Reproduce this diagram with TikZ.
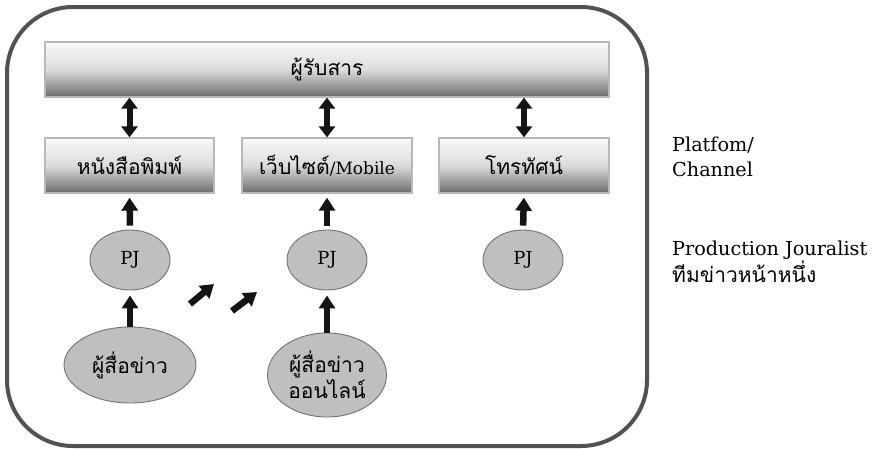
\documentclass[tikz,border=0pt]{standalone}
\usepackage{fontspec}
\setmainfont{DejaVu Serif}
\newfontfamily\thai[Script=Thai]{Loma}
\usetikzlibrary{arrows.meta,shapes.geometric}
\tikzset{
  frame/.style={draw=black!68, line width=4pt, rounded corners=66pt, inner sep=0pt},
  chan/.style={rectangle, draw=black!28, line width=1.3pt, inner sep=0pt,
    shading=axis, top color=black!2, bottom color=black!58, middle color=black!14,
    font=\fontsize{17}{20}\selectfont},
  thaibox/.style={font=\fontsize{21}{24}\selectfont\thai},
  pjnode/.style={ellipse, draw=black!55, line width=0.9pt, fill=black!25, inner sep=0pt,
    font=\fontsize{18}{21}\selectfont},
  repnode/.style={ellipse, draw=black!55, line width=0.9pt, fill=black!25, inner sep=0pt,
    align=center, font=\fontsize{21}{26}\selectfont\thai},
  uparr/.style={draw=black!92, line width=6.5pt, -{Triangle[length=13pt,width=16pt]}},
  dblarr/.style={draw=black!92, line width=6pt, {Triangle[length=11pt,width=16pt]}-{Triangle[length=11pt,width=16pt]}},
  side/.style={anchor=base west, inner sep=0pt, font=\fontsize{19.2}{22}\selectfont}
}
\begin{document}
\begin{tikzpicture}[x=1pt,y=-1pt]
\useasboundingbox (0,0) rectangle (883,448);
\node[frame, minimum width=640pt, minimum height=439pt] (frame) at (327,226.5) {};

\node[chan, thaibox, minimum width=564pt, minimum height=55pt] (aud) at (327,69.5) {ผู้รับสาร};
\node[chan, thaibox, minimum width=169pt, minimum height=55pt] (news) at (129.5,165.5) {หนังสือพิมพ์};
\node[chan, minimum width=170pt, minimum height=55pt] (web) at (327,165.5) {{\fontsize{21}{24}\selectfont\thai เว็บไซต์}/Mobile};
\node[chan, thaibox, minimum width=170pt, minimum height=55pt] (tv) at (524,165.5) {โทรทัศน์};

\node[pjnode, minimum width=80pt, minimum height=60pt] (pj1) at (130,260) {PJ};
\node[pjnode, minimum width=80pt, minimum height=60pt] (pj2) at (327,260) {PJ};
\node[pjnode, minimum width=80pt, minimum height=60pt] (pj3) at (523,260) {PJ};

\node[repnode, minimum width=132pt, minimum height=76pt] (rep1) at (130,365) {ผู้สื่อข่าว};
\node[repnode, minimum width=119pt, minimum height=84pt] (rep2) at (327,375) {ผู้สื่อข่าว\\ออนไลน์};

% double arrows between audience and channels
\draw[dblarr] (news.north |- aud.south) -- (news.north);
\draw[dblarr] (web.north |- aud.south) -- (web.north);
\draw[dblarr] (tv.north |- aud.south) -- (tv.north);

% PJ to channels
\draw[uparr, shorten <=4pt, shorten >=4pt] (pj1.north) -- (news.south);
\draw[uparr, shorten <=4pt, shorten >=4pt] (pj2.north) -- (web.south);
\draw[uparr, shorten <=4pt, shorten >=4pt] (pj3.north) -- (tv.south);

% reporters to PJ
\draw[uparr, shorten >=5pt] (rep1.north) -- (pj1.south);
\draw[uparr, shorten >=5pt] (rep2.north) -- (pj2.south);

% diagonal arrows
\coordinate (d1a) at (190,304);
\coordinate (d1b) at (214,284);
\coordinate (d2a) at (232,311);
\coordinate (d2b) at (257,292);
\draw[uparr] (d1a) -- (d1b);
\draw[uparr] (d2a) -- (d2b);

% side labels
\node[side] (plat1) at (672,151) {Platfom/};
\node[side] (plat2) at (672,176) {Channel};
\node[side] (prod1) at (672,255) {Production Jouralist};
\node[side, font=\fontsize{21}{24}\selectfont\thai] (prod2) at (672,282) {ทีมข่าวหน้าหนึ่ง};
\end{tikzpicture}
\end{document}
